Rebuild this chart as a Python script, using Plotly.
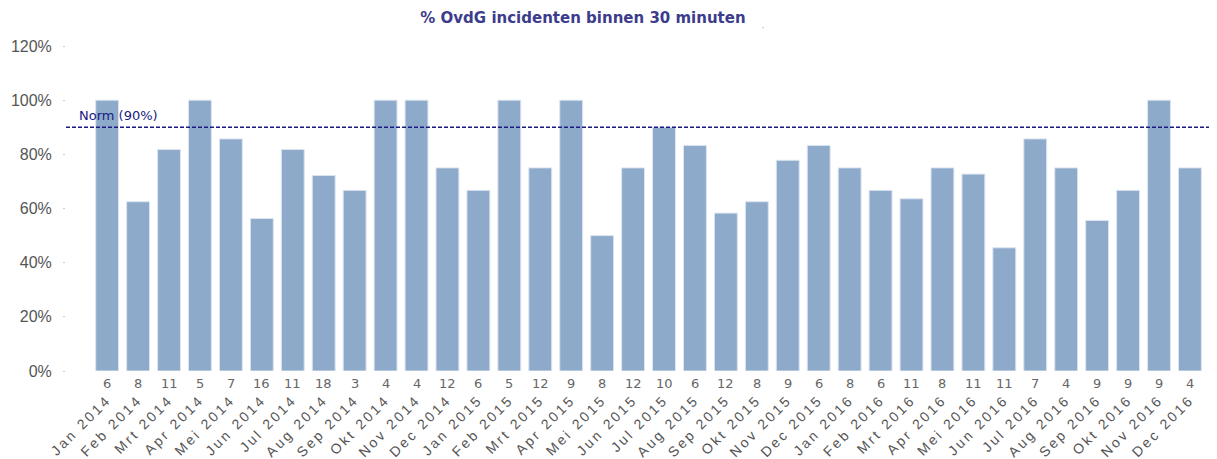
import plotly.graph_objects as go

months = ["Jan 2014", "Feb 2014", "Mrt 2014", "Apr 2014", "Mei 2014", "Jun 2014",
          "Jul 2014", "Aug 2014", "Sep 2014", "Okt 2014", "Nov 2014", "Dec 2014",
          "Jan 2015", "Feb 2015", "Mrt 2015", "Apr 2015", "Mei 2015", "Jun 2015",
          "Jul 2015", "Aug 2015", "Sep 2015", "Okt 2015", "Nov 2015", "Dec 2015",
          "Jan 2016", "Feb 2016", "Mrt 2016", "Apr 2016", "Mei 2016", "Jun 2016",
          "Jul 2016", "Aug 2016", "Sep 2016", "Okt 2016", "Nov 2016", "Dec 2016"]
pct = [100, 62.5, 81.8, 100, 85.7, 56.3, 81.8, 72.2, 66.7, 100, 100, 75.0,
       66.7, 100, 75.0, 100, 50.0, 75.0, 90.0, 83.3, 58.3, 62.5, 77.8, 83.3,
       75.0, 66.7, 63.6, 75.0, 72.7, 45.5, 85.7, 75.0, 55.6, 66.7, 100, 75.0]
counts = [6, 8, 11, 5, 7, 16, 11, 18, 3, 4, 4, 12,
          6, 5, 12, 9, 8, 12, 10, 6, 12, 8, 9, 6,
          8, 6, 11, 8, 11, 11, 7, 4, 9, 9, 9, 4]
norm = 90
y_ticks = [0, 20, 40, 60, 80, 100, 120]

font = "Liberation Sans, Arial, sans-serif"
dfont = "DejaVu Sans, Verdana, sans-serif"
idx = list(range(len(months)))

fig = go.Figure()
fig.add_trace(go.Bar(
    x=idx, y=pct, width=0.74,
    marker=dict(color="#8eaacb", line=dict(color="#dce5ef", width=1)),
    hoverinfo="x+y",
))

fig.add_shape(type="line", xref="paper", yref="y", x0=0, x1=1, y0=norm, y1=norm,
              line=dict(color="#1a1a80", width=1.3, dash="4px,2px"))
fig.add_annotation(xref="paper", yref="y", x=0.01, y=norm, text="Norm (90%)",
                   showarrow=False, xanchor="left", yanchor="bottom", yshift=2,
                   font=dict(family=dfont, size=13, color="#1a1a80"))

for i, c in zip(idx, counts):
    fig.add_annotation(x=i, y=0, xref="x", yref="paper", text=str(c), showarrow=False,
                       yanchor="top", yshift=-3,
                       font=dict(family=dfont, size=13, color="#666666"))

fig.add_annotation(xref="paper", yref="paper", x=(763 - 66) / 1149, y=1 + 28 / 325,
                   text="·", showarrow=False, font=dict(family=font, size=12, color="#b8bccc"))

fig.update_layout(
    width=1209, height=451,
    margin=dict(l=58, r=2, t=38, b=88),
    paper_bgcolor="white", plot_bgcolor="white",
    showlegend=False,
    bargap=0.26,
    title=dict(text="<b>% OvdG incidenten binnen 30 minuten</b>", x=575 / 1209, xanchor="center",
               y=1 - 10 / 451, yanchor="middle",
               font=dict(family=dfont, size=15, color="#3c3c8c")),
    xaxis=dict(range=[-1.33, 35.81], tickmode="array", tickvals=idx, ticktext=months,
               tickangle=-45, showgrid=False, zeroline=False, showline=False,
               ticks="", ticklabelstandoff=17, automargin=False,
               tickfont=dict(family=font, size=14, color="#555555")),
    yaxis=dict(range=[0, 120], tickmode="array", tickvals=y_ticks,
               ticktext=[f"{v}%" for v in y_ticks],
               showgrid=False, zeroline=False, showline=False,
               ticks="outside", ticklen=2, tickcolor="#cccccc", tickwidth=1,
               ticklabelstandoff=8, automargin=False,
               tickfont=dict(family=font, size=16, color="#555555")),
)

post = "document.querySelectorAll('.xtick text').forEach(function(t){t.style.letterSpacing='2.6px';});"
fig.write_html("out.html", post_script=post)
